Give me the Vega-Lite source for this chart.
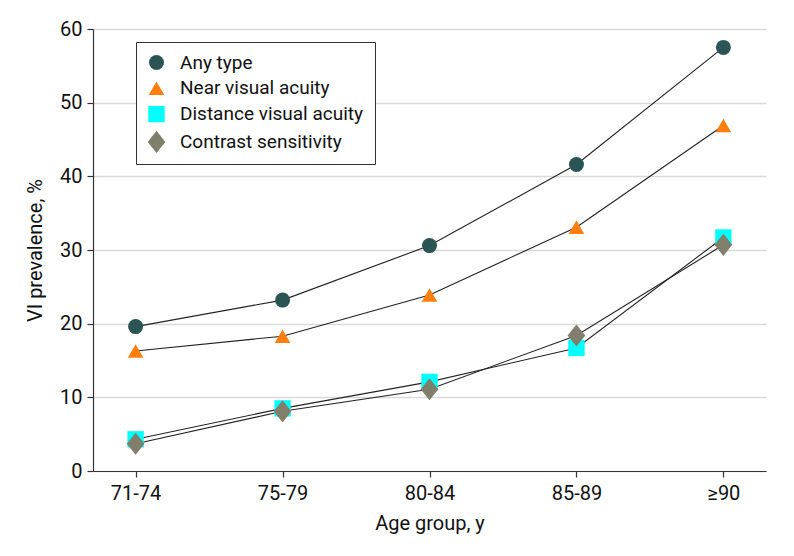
{
  "$schema": "https://vega.github.io/schema/vega-lite/v6.json",
  "autosize": {"type": "none"},
  "width": 673,
  "height": 442,
  "padding": {"left": 93, "top": 29, "right": 28, "bottom": 85},
  "background": "white",
  "config": {
    "font": "Roboto",
    "view": {"stroke": null},
    "axis": {"labelFont": "Roboto", "titleFont": "Roboto", "labelFontSize": 20, "titleFontSize": 20, "titleFontWeight": "normal", "labelColor": "#111", "titleColor": "#111", "domainColor": "#333", "tickColor": "#333", "domainWidth": 1.2, "tickWidth": 1.2, "tickSize": 6}
  },
  "data": {"values": [
    {"age": "71-74", "type": "Any type", "v": 19.6},
    {"age": "75-79", "type": "Any type", "v": 23.2},
    {"age": "80-84", "type": "Any type", "v": 30.6},
    {"age": "85-89", "type": "Any type", "v": 41.6},
    {"age": "≥90", "type": "Any type", "v": 57.5},
    {"age": "71-74", "type": "Near visual acuity", "v": 16.3},
    {"age": "75-79", "type": "Near visual acuity", "v": 18.3},
    {"age": "80-84", "type": "Near visual acuity", "v": 23.9},
    {"age": "85-89", "type": "Near visual acuity", "v": 33.1},
    {"age": "≥90", "type": "Near visual acuity", "v": 46.9},
    {"age": "71-74", "type": "Distance visual acuity", "v": 4.3},
    {"age": "75-79", "type": "Distance visual acuity", "v": 8.5},
    {"age": "80-84", "type": "Distance visual acuity", "v": 12.1},
    {"age": "85-89", "type": "Distance visual acuity", "v": 16.7},
    {"age": "≥90", "type": "Distance visual acuity", "v": 31.7},
    {"age": "71-74", "type": "Contrast sensitivity", "v": 3.7},
    {"age": "75-79", "type": "Contrast sensitivity", "v": 8.1},
    {"age": "80-84", "type": "Contrast sensitivity", "v": 11.1},
    {"age": "85-89", "type": "Contrast sensitivity", "v": 18.4},
    {"age": "≥90", "type": "Contrast sensitivity", "v": 30.7}
  ]},
  "encoding": {
    "x": {"field": "age", "type": "ordinal", "sort": ["71-74", "75-79", "80-84", "85-89", "≥90"], "scale": {"type": "point", "padding": 0.29}, "axis": {"title": "Age group, y", "labelAngle": 0, "labelPadding": 6, "titlePadding": 10, "grid": false}},
    "y": {"field": "v", "type": "quantitative", "scale": {"domain": [0, 60], "nice": false}, "axis": {"title": "VI prevalence, %", "values": [0, 10, 20, 30, 40, 50, 60], "grid": true, "gridColor": "#d9d9d9", "gridWidth": 1.5, "labelPadding": 5, "titlePadding": 14}}
  },
  "layer": [
    {
      "mark": {"type": "line", "color": "#222", "strokeWidth": 1.1},
      "encoding": {"detail": {"field": "type"}}
    },
    {
      "mark": {"type": "point", "filled": true, "opacity": 1},
      "encoding": {
        "color": {"field": "type", "type": "nominal", "scale": {"domain": ["Any type", "Near visual acuity", "Distance visual acuity", "Contrast sensitivity"], "range": ["#2b5555", "#ff7f0e", "#00ffff", "#7f7f6b"]}, "legend": {"title": null, "orient": "none", "legendX": 43, "legendY": 13, "strokeColor": "#333", "fillColor": "white", "padding": 11, "labelFont": "Roboto", "labelFontSize": 19, "labelColor": "#111", "labelLimit": 400, "symbolSize": 230, "symbolOpacity": 1, "rowPadding": 5.8, "labelOffset": 14, "symbolStrokeWidth": 0}},
        "shape": {"field": "type", "type": "nominal", "scale": {"domain": ["Any type", "Near visual acuity", "Distance visual acuity", "Contrast sensitivity"], "range": ["circle", "triangle-up", "square", "M0,-1.3L1.04,0L0,1.3L-1.04,0Z"]}, "legend": null},
        "size": {"field": "type", "type": "ordinal", "scale": {"domain": ["Any type", "Near visual acuity", "Distance visual acuity", "Contrast sensitivity"], "range": [225, 289, 196, 200]}, "legend": null}
      }
    }
  ]
}
